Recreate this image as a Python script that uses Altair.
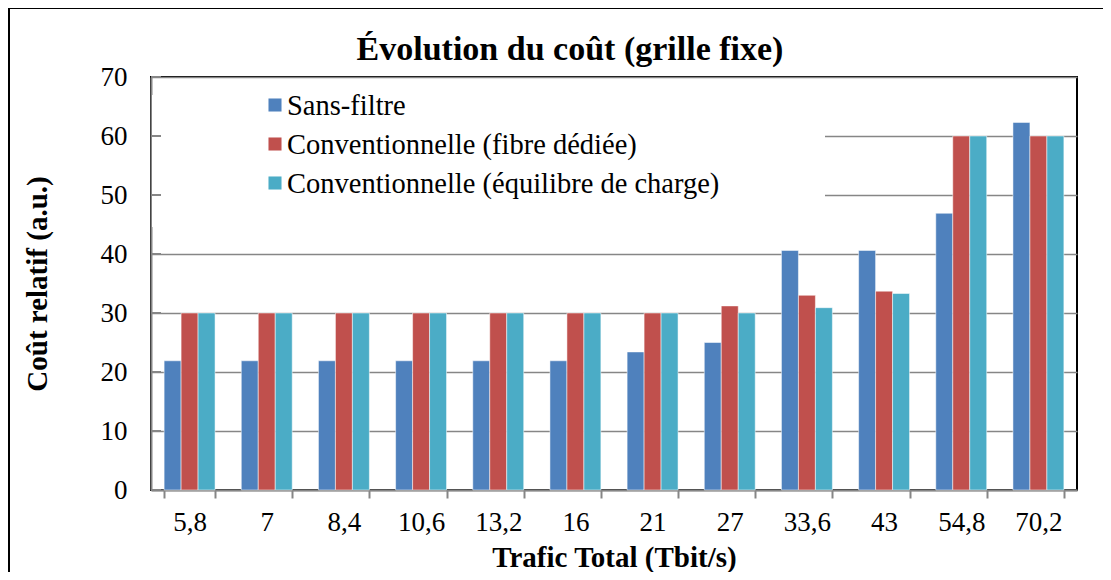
import altair as alt
import pandas as pd

categories = ["5,8", "7", "8,4", "10,6", "13,2", "16", "21", "27", "33,6", "43", "54,8", "70,2"]
series_names = ["Sans-filtre", "Conventionnelle (fibre dédiée)", "Conventionnelle (équilibre de charge)"]
sans_filtre = [21.9, 21.9, 21.9, 21.9, 21.9, 21.9, 23.4, 25.0, 40.6, 40.6, 46.9, 62.3]
conv_fibre = [30.0, 30.0, 30.0, 30.0, 30.0, 30.0, 30.0, 31.2, 33.0, 33.7, 60.0, 60.0]
conv_equil = [30.0, 30.0, 30.0, 30.0, 30.0, 30.0, 30.0, 30.0, 30.9, 33.3, 60.0, 60.0]
colors = ["#4F81BD", "#C0504D", "#4BACC6"]
y_ticks = [0, 10, 20, 30, 40, 50, 60, 70]
chart_title = "Évolution du coût (grille fixe)"

rows = []
for name, vals in zip(series_names, [sans_filtre, conv_fibre, conv_equil]):
    for c, v in zip(categories, vals):
        rows.append({"cat": c, "serie": name, "val": v})
df = pd.DataFrame(rows)
leg_df = pd.DataFrame({"serie": series_names, "row": list(range(len(series_names)))})

FONT = "Liberation Serif"
W, H = 926, 413
color_scale = alt.Scale(domain=series_names, range=colors)

frame = alt.Chart(alt.Data(values=[{}])).mark_rect(
    filled=False, stroke="black", strokeWidth=2
).encode(x=alt.value(-142), x2=alt.value(3000), y=alt.value(-69), y2=alt.value(3000))

legend_bg = alt.Chart(alt.Data(values=[{}])).mark_rect(fill="white").encode(
    x=alt.value(1), x2=alt.value(674), y=alt.value(18), y2=alt.value(150)
)

title_txt = alt.Chart(alt.Data(values=[{"t": chart_title}])).mark_text(
    font=FONT, fontSize=34, fontWeight="bold", color="black", align="center", baseline="alphabetic"
).encode(text="t:N", x=alt.value(419), y=alt.value(-17))

bars = alt.Chart(df).mark_bar(stroke="white", strokeWidth=1, strokeOpacity=0.5).encode(
    x=alt.X("cat:N", sort=categories, title="Trafic Total (Tbit/s)",
            scale=alt.Scale(paddingInner=0.34, paddingOuter=0.17),
            axis=alt.Axis(labelAngle=0, tickBand="extent", ticks=True, tickSize=8,
                          tickColor="#868686", tickWidth=2, domainColor="#868686",
                          domainWidth=2, labelPadding=11, titlePadding=8, grid=False)),
    xOffset=alt.XOffset("serie:N", sort=series_names),
    y=alt.Y("val:Q", title="Coût relatif (a.u.)",
            scale=alt.Scale(domain=[0, 70], nice=False),
            axis=alt.Axis(values=y_ticks, ticks=False, domainColor="#868686", domainWidth=2,
                          gridColor="#868686", gridWidth=1.5, labelPadding=24,
                          titlePadding=48)),
    color=alt.Color("serie:N", sort=series_names, scale=color_scale, legend=None),
)

yticks = alt.Chart(pd.DataFrame({"t": y_ticks})).mark_rule(color="#868686", strokeWidth=2).encode(
    y=alt.Y("t:Q"), x=alt.value(0), x2=alt.value(10)
)

main = alt.layer(bars, yticks)

leg_y = alt.Y("row:O", axis=None, scale=alt.Scale(type="point", range=[28, 106], padding=0))
leg_sq = alt.Chart(leg_df).mark_square(size=170, opacity=1).encode(
    y=leg_y, x=alt.value(124),
    color=alt.Color("serie:N", scale=color_scale, legend=None),
)
leg_txt = alt.Chart(leg_df).mark_text(
    font=FONT, fontSize=28.5, color="black", align="left", baseline="middle", dy=1
).encode(y=leg_y, x=alt.value(136), text="serie:N")

chart = alt.layer(frame, legend_bg, main, leg_sq, leg_txt, title_txt).resolve_scale(
    y="independent"
).properties(
    width=W, height=H,
    autosize=alt.AutoSizeParams(type="none"),
    padding={"left": 143, "top": 69, "right": 26, "bottom": 82},
).configure(font=FONT).configure_view(stroke="black", strokeWidth=2).configure_axis(
    labelFont=FONT, labelFontSize=27, labelColor="black",
    titleFont=FONT, titleFontSize=29, titleFontWeight="bold", titleColor="black",
)

chart.save("out.html", embed_options={"renderer": "svg", "actions": False})
